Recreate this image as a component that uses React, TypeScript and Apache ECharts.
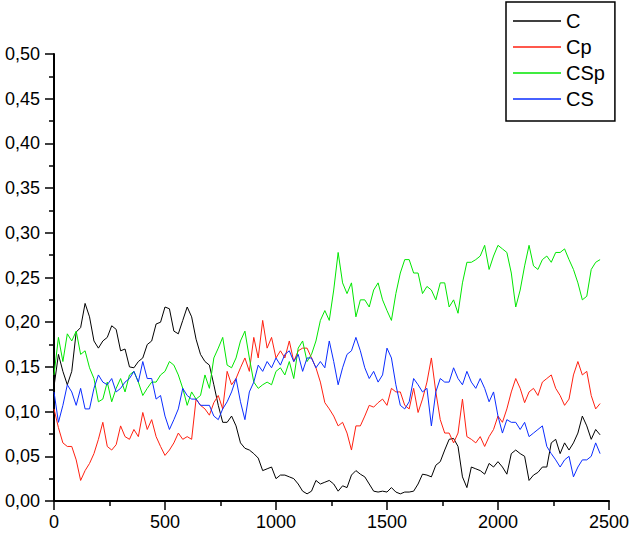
import React, { useEffect, useRef } from "react";
import * as echarts from "echarts";

const xs = [
  0, 20, 40, 60, 80, 100, 120, 140, 160, 180, 200, 220, 240, 260, 280, 300, 320, 340, 360, 380,
  400, 420, 440, 460, 480, 500, 520, 540, 560, 580, 600, 620, 640, 660, 680, 700, 720, 740, 760, 780,
  800, 820, 840, 860, 880, 900, 920, 940, 960, 980, 1000, 1020, 1040, 1060, 1080, 1100, 1120, 1140, 1160, 1180,
  1200, 1220, 1240, 1260, 1280, 1300, 1320, 1340, 1360, 1380, 1400, 1420, 1440, 1460, 1480, 1500, 1520, 1540, 1560, 1580,
  1600, 1620, 1640, 1660, 1680, 1700, 1720, 1740, 1760, 1780, 1800, 1820, 1840, 1860, 1880, 1900, 1920, 1940, 1960, 1980,
  2000, 2020, 2040, 2060, 2080, 2100, 2120, 2140, 2160, 2180, 2200, 2220, 2240, 2260, 2280, 2300, 2320, 2340, 2360, 2380,
  2400, 2420, 2440, 2460,
];

const C = [
  0.128, 0.164, 0.145, 0.13, 0.145, 0.189, 0.194, 0.221, 0.206, 0.179, 0.171, 0.179, 0.183, 0.196, 0.192, 0.168, 0.17, 0.15, 0.149, 0.156,
  0.16, 0.175, 0.179, 0.198, 0.2, 0.217, 0.215, 0.19, 0.187, 0.202, 0.217, 0.206, 0.181, 0.164, 0.156, 0.152, 0.13, 0.107, 0.088, 0.088,
  0.095, 0.084, 0.065, 0.059, 0.057, 0.053, 0.048, 0.034, 0.036, 0.038, 0.025, 0.029, 0.029, 0.027, 0.025, 0.019, 0.011, 0.008, 0.011, 0.023,
  0.019, 0.021, 0.023, 0.019, 0.011, 0.017, 0.015, 0.029, 0.034, 0.03, 0.027, 0.019, 0.011, 0.01, 0.011, 0.01, 0.015, 0.01, 0.008, 0.01,
  0.01, 0.011, 0.019, 0.03, 0.029, 0.027, 0.04, 0.044, 0.057, 0.069, 0.07, 0.061, 0.027, 0.015, 0.038, 0.036, 0.034, 0.03, 0.042, 0.038,
  0.044, 0.038, 0.03, 0.053, 0.057, 0.053, 0.05, 0.023, 0.029, 0.032, 0.038, 0.038, 0.065, 0.069, 0.053, 0.065, 0.057, 0.065, 0.076, 0.095,
  0.084, 0.069, 0.08, 0.074,
];

const Cp = [
  0.103, 0.082, 0.065, 0.061, 0.061, 0.046, 0.023, 0.034, 0.042, 0.053, 0.069, 0.088, 0.061, 0.057, 0.063, 0.084, 0.072, 0.069, 0.08, 0.072,
  0.099, 0.08, 0.091, 0.072, 0.061, 0.051, 0.057, 0.065, 0.076, 0.069, 0.072, 0.069, 0.114, 0.107, 0.103, 0.096, 0.11, 0.118, 0.103, 0.145,
  0.13, 0.137, 0.149, 0.16, 0.145, 0.183, 0.16, 0.202, 0.171, 0.183, 0.16, 0.168, 0.16, 0.179, 0.156, 0.168, 0.171, 0.171, 0.16, 0.149,
  0.133, 0.11, 0.103, 0.095, 0.084, 0.088, 0.076, 0.057, 0.084, 0.084, 0.095, 0.107, 0.105, 0.11, 0.114, 0.107, 0.126, 0.122, 0.122, 0.107,
  0.103, 0.126, 0.099, 0.114, 0.133, 0.16, 0.122, 0.091, 0.076, 0.076, 0.065, 0.076, 0.114, 0.072, 0.069, 0.065, 0.072, 0.061, 0.072, 0.08,
  0.095, 0.088, 0.103, 0.122, 0.137, 0.126, 0.11, 0.122, 0.126, 0.118, 0.133, 0.137, 0.141, 0.126, 0.118, 0.107, 0.114, 0.141, 0.156, 0.141,
  0.145, 0.118, 0.103, 0.109,
];

const CSp = [
  0.141, 0.183, 0.156, 0.187, 0.179, 0.19, 0.164, 0.168, 0.149, 0.137, 0.111, 0.114, 0.133, 0.111, 0.126, 0.137, 0.122, 0.141, 0.145, 0.133,
  0.118, 0.126, 0.133, 0.133, 0.141, 0.145, 0.156, 0.152, 0.141, 0.126, 0.107, 0.122, 0.114, 0.118, 0.141, 0.126, 0.16, 0.171, 0.183, 0.152,
  0.149, 0.16, 0.179, 0.19, 0.16, 0.133, 0.126, 0.13, 0.133, 0.13, 0.145, 0.149, 0.141, 0.156, 0.137, 0.171, 0.179, 0.156, 0.164, 0.179,
  0.202, 0.213, 0.202, 0.236, 0.278, 0.244, 0.232, 0.244, 0.206, 0.225, 0.225, 0.217, 0.236, 0.244, 0.225, 0.213, 0.202, 0.232, 0.255, 0.27,
  0.27, 0.255, 0.255, 0.232, 0.24, 0.236, 0.225, 0.244, 0.244, 0.217, 0.225, 0.21, 0.244, 0.267, 0.267, 0.27, 0.274, 0.286, 0.259, 0.274,
  0.286, 0.282, 0.278, 0.255, 0.217, 0.236, 0.263, 0.286, 0.263, 0.259, 0.27, 0.274, 0.267, 0.278, 0.278, 0.282, 0.27, 0.259, 0.244, 0.225,
  0.229, 0.259, 0.267, 0.27,
];

const CS = [
  0.122, 0.088, 0.107, 0.13, 0.122, 0.107, 0.126, 0.103, 0.103, 0.126, 0.141, 0.133, 0.13, 0.137, 0.122, 0.126, 0.133, 0.137, 0.145, 0.133,
  0.156, 0.137, 0.137, 0.114, 0.118, 0.095, 0.08, 0.091, 0.103, 0.126, 0.118, 0.114, 0.114, 0.107, 0.107, 0.107, 0.095, 0.091, 0.103, 0.111,
  0.122, 0.137, 0.111, 0.091, 0.122, 0.133, 0.152, 0.145, 0.156, 0.149, 0.16, 0.152, 0.164, 0.168, 0.156, 0.164, 0.145, 0.16, 0.16, 0.149,
  0.156, 0.149, 0.179, 0.156, 0.13, 0.149, 0.164, 0.168, 0.183, 0.168, 0.149, 0.137, 0.145, 0.133, 0.141, 0.171, 0.16, 0.13, 0.107, 0.103,
  0.111, 0.137, 0.13, 0.122, 0.126, 0.084, 0.122, 0.137, 0.133, 0.133, 0.149, 0.137, 0.13, 0.145, 0.133, 0.126, 0.137, 0.126, 0.111, 0.122,
  0.095, 0.076, 0.091, 0.088, 0.088, 0.08, 0.088, 0.072, 0.076, 0.08, 0.084, 0.061, 0.053, 0.046, 0.038, 0.046, 0.05, 0.027, 0.038, 0.046,
  0.046, 0.05, 0.065, 0.053,
];

const seriesNames = ["C", "Cp", "CSp", "CS"];
const seriesColors = ["#000000", "#ff2010", "#00e600", "#0a2cff"];
const seriesValues = [C, Cp, CSp, CS];

const FONT = "'Liberation Sans', Arial, sans-serif";

export default function App() {
  const ref = useRef<HTMLDivElement>(null);
  useEffect(() => {
    if (!ref.current) return;
    const chart = echarts.init(ref.current, null, { renderer: "svg" });
    const axisCommon = {
      axisLine: { show: true, lineStyle: { color: "#000", width: 2 } },
      axisTick: { show: true, inside: false, length: 9, lineStyle: { color: "#000", width: 1.5 } },
      minorTick: { show: true, splitNumber: 2, length: 5, lineStyle: { color: "#000", width: 1.5 } },
      splitLine: { show: false },
      minorSplitLine: { show: false },
    };
    chart.setOption({
      animation: false,
      backgroundColor: "#fff",
      textStyle: { fontFamily: FONT },
      grid: { left: 54, right: 20, top: 54, bottom: 35, containLabel: false },
      legend: {
        show: true,
        orient: "vertical",
        left: 506,
        top: 2,
        data: seriesNames.map((n) => ({ name: n, icon: "rect" })),
        itemWidth: 48,
        itemHeight: 1.5,
        itemGap: 6,
        padding: [9, 10, 12, 7],
        borderColor: "#000",
        borderWidth: 1.5,
        borderRadius: 0,
        selectedMode: false,
        textStyle: { fontFamily: FONT, fontSize: 20, color: "#000", lineHeight: 20 },
      },
      xAxis: {
        type: "value",
        min: 0,
        max: 2500,
        interval: 500,
        ...axisCommon,
        axisLabel: {
          color: "#000",
          fontSize: 18,
          fontFamily: FONT,
          margin: 12,
          formatter: (v: number) => String(v),
        },
      },
      yAxis: {
        type: "value",
        min: 0,
        max: 0.5,
        interval: 0.05,
        ...axisCommon,
        axisLabel: {
          color: "#000",
          fontSize: 18,
          fontFamily: FONT,
          margin: 14,
          formatter: (v: number) => v.toFixed(2).replace(".", ","),
        },
      },
      series: seriesNames.map((name, i) => ({
        name,
        type: "line",
        data: xs.map((x, j) => [x, seriesValues[i][j]]),
        symbol: "none",
        showSymbol: false,
        lineStyle: { color: seriesColors[i], width: 1 },
        itemStyle: { color: seriesColors[i] },
      })),
    });
    return () => chart.dispose();
  }, []);
  return <div ref={ref} style={{ width: 632, height: 536, position: "absolute", left: 0, top: 0 }} />;
}
